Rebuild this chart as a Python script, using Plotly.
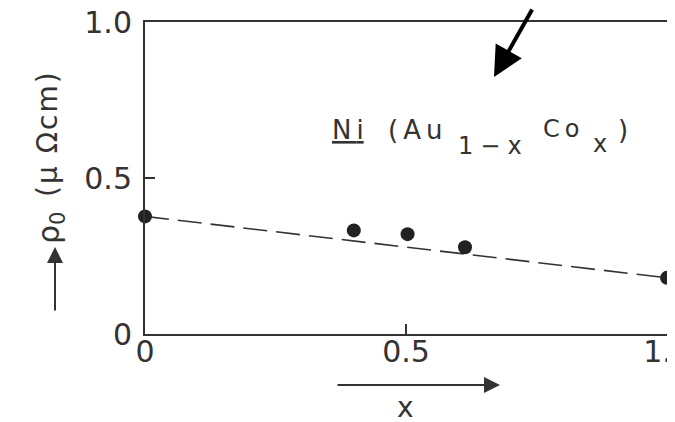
import plotly.graph_objects as go

# data
conc_x = [0.0, 0.40, 0.503, 0.613, 1.0]
rho0 = [0.377, 0.332, 0.320, 0.278, 0.18]
fit_x = [0.0, 1.0]
fit_y = [0.377, 0.18]
tick_vals = [0, 0.5, 1.0]
x_tick_text = ["0", "0.5", "1.0"]
y_tick_text = ["0", "0.5", "1.0"]

INK = "#333333"
FONT = "DejaVu Sans"

# plot area in page pixels (page has an 8px body offset)
PL, PR, PT, PB = 145, 667, 22, 334
OFF = 8


def px(xp):
    return (xp - PL) / (PR - PL)


def py(yp):
    return (PB - yp) / (PB - PT)


fig = go.Figure()
fig.add_trace(go.Scatter(x=fit_x, y=fit_y, mode="lines",
                         line=dict(color=INK, width=1.6, dash="24px,9px"),
                         cliponaxis=False, showlegend=False))
fig.add_trace(go.Scatter(x=conc_x, y=rho0, mode="markers",
                         marker=dict(color="#222222", size=14),
                         cliponaxis=False, showlegend=False))

axis_common = dict(range=[0, 1], showline=True, mirror=True, linecolor=INK, linewidth=2,
                   ticks="inside", ticklen=10, tickwidth=1.5, tickcolor=INK,
                   showgrid=False, zeroline=False, tickvals=tick_vals,
                   ticklabeloverflow="allow", automargin=False,
                   tickfont=dict(family=FONT, size=30, color=INK))
fig.update_xaxes(**axis_common, ticktext=x_tick_text, ticklabelstandoff=-10)
fig.update_yaxes(**axis_common, ticktext=y_tick_text, ticklabelstandoff=5)


def spaced(text, sp):
    return '<span style="letter-spacing:%dpx">%s</span>' % (sp, text)


def label(text, xp, yp, size, angle=0):
    return dict(x=px(xp), y=py(yp), xref="paper", yref="paper", showarrow=False,
                xanchor="center", yanchor="middle", text=text, textangle=angle,
                font=dict(family=FONT, size=size, color=INK))


ann = []
# big black arrow
ann.append(dict(x=px(494), y=py(77), xref="paper", yref="paper", ax=39, ay=-80,
                showarrow=True, arrowhead=2, arrowsize=1.5, arrowwidth=4,
                arrowcolor="#000000", text=""))
# compound label pieces (centre positions include half the trailing letter spacing)
ann.append(label("<u>" + spaced("N", 5) + "i</u>", 348, 130, 26))
ann.append(label(spaced("(A", 5) + "u", 415, 130, 26))
ann.append(label(spaced("1\u2212", 7) + "x", 490, 146, 24))
ann.append(label(spaced("C", 5) + "o", 561, 129, 24))
ann.append(label("x", 600, 144, 24))
ann.append(label(")", 623, 130, 26))
# y label
ann.append(label(spaced("(\u03bc \u03a9cm)", 2), 48, 134, 28, -90))
ann.append(label("\u03c1<sub>0</sub>", 50, 228, 30, -90))
# y arrow
ann.append(dict(x=px(55), y=py(247), xref="paper", yref="paper", ax=0, ay=65,
                showarrow=True, arrowhead=2, arrowsize=1.6, arrowwidth=2,
                arrowcolor=INK, text=""))
# x arrow
ann.append(dict(x=px(500), y=py(385), xref="paper", yref="paper", ax=-164, ay=0,
                showarrow=True, arrowhead=2, arrowsize=1.6, arrowwidth=2,
                arrowcolor=INK, text=""))
# x label
ann.append(label("x", 405, 407, 28))

W, H = 675 - OFF, 422 - OFF
fig.update_layout(width=W, height=H,
                  margin=dict(l=PL - OFF, r=W - (PR - OFF), t=PT - OFF, b=H - (PB - OFF)),
                  paper_bgcolor="white", plot_bgcolor="white", annotations=ann)

fig.write_html("out.html")
